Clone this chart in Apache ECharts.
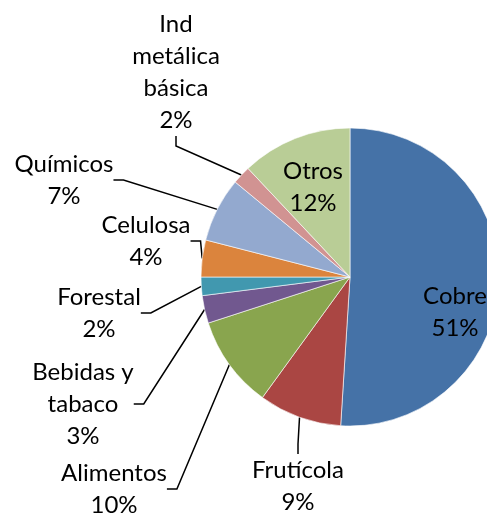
<!DOCTYPE html>
<html>
<head>
<meta charset="utf-8">
<title>Exportaciones por sector</title>
<script src="https://cdn.jsdelivr.net/npm/echarts@6/dist/echarts.min.js"></script>
<style>
  html, body { margin: 0; padding: 0; background: #fff; }
  #chart { width: 487px; height: 513px; }
</style>
</head>
<body>
<div id="chart"></div>
<script>
// Data
const sectors = ["Cobre", "Frutícola", "Alimentos", "Bebidas y\ntabaco", "Forestal", "Celulosa", "Químicos", "Ind\nmetálica\nbásica", "Otros"]
const shares = [51, 9, 10, 3, 2, 4, 7, 2, 12]
const colors = ["#4572A7", "#AA4643", "#89A54E", "#71588F", "#4198AF", "#DB843D", "#93A9CF", "#D19392", "#B9CD96"]
const insideLabels = [true, false, false, false, false, false, false, false, true]

// Label block centres (layout only)
const labelPos = [
    [455, 312], [298, 486], [114, 489], [83, 404], [99, 313],
    [146, 241], [64, 180], [176, 72], [313, 187]
]

document.addEventListener("DOMContentLoaded", () => {
    const chart = echarts.init(document.getElementById("chart"))

    const option = {
        animation: false,
        textStyle: { fontFamily: "Lato" },
        series: [
            {
                type: "pie",
                center: [350, 277],
                radius: 149,
                startAngle: 90,
                clockwise: true,
                avoidLabelOverlap: false,
                itemStyle: { borderColor: "#ffffff", borderWidth: 0.6 },
                label: {
                    show: true,
                    color: "#000",
                    fontSize: 24,
                    lineHeight: 32,
                    align: "center",
                    formatter: (p) => p.name + "\n" + p.value + "%",
                },
                labelLine: {
                    show: true,
                    length: 10,
                    length2: 10,
                    lineStyle: { color: "#000", width: 1.5 },
                },
                labelLayout: (p) => ({
                    x: labelPos[p.dataIndex][0],
                    y: labelPos[p.dataIndex][1],
                    align: "center",
                    verticalAlign: "middle",
                }),
                data: sectors.map((name, i) => ({
                    name: name,
                    value: shares[i],
                    itemStyle: { color: colors[i] },
                    label: insideLabels[i] ? { position: "inside" } : { position: "outside" },
                    labelLine: { show: !insideLabels[i] },
                })),
            },
        ],
    }

    chart.setOption(option)

    window.addEventListener("resize", () => {
        chart.resize()
    })
})
</script>
</body>
</html>
